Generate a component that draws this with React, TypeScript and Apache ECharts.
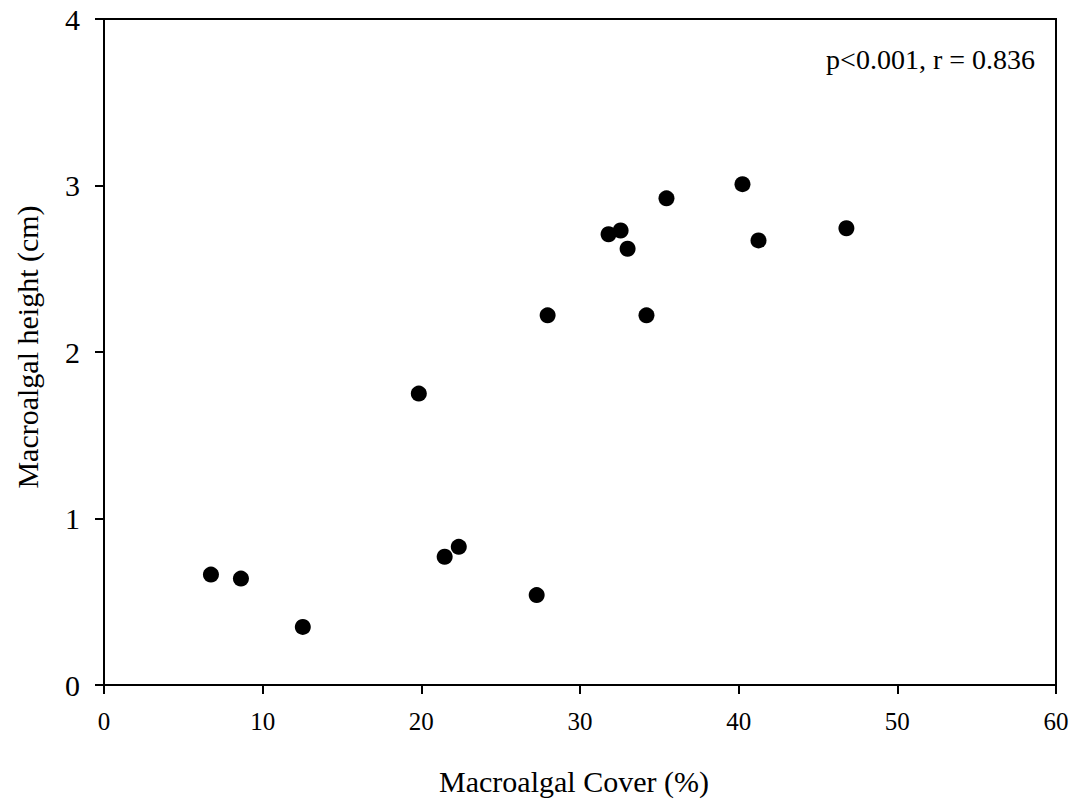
import React, { useEffect, useRef } from "react";
import * as echarts from "echarts";

const coverPct = [6.74, 8.63, 12.53, 19.84, 21.47, 22.36, 27.27, 27.96, 31.8, 32.56, 33.0, 34.19, 35.45, 40.24, 41.25, 46.79];
const heightCm = [0.663, 0.639, 0.349, 1.75, 0.77, 0.83, 0.54, 2.22, 2.707, 2.73, 2.62, 2.22, 2.923, 3.008, 2.67, 2.743];
const xTicks = [0, 10, 20, 30, 40, 50, 60];
const yTicks = [0, 1, 2, 3, 4];
const statText = "p<0.001, r = 0.836";
const xTitle = "Macroalgal Cover (%)";
const yTitle = "Macroalgal height (cm)";

const FONT = "'Liberation Serif', 'Times New Roman', serif";

export default function App() {
  const ref = useRef<HTMLDivElement>(null);
  useEffect(() => {
    if (!ref.current) return;
    const chart = echarts.init(ref.current, null, { renderer: "svg" });
    chart.setOption({
      animation: false,
      backgroundColor: "#ffffff",
      textStyle: { fontFamily: FONT, color: "#000" },
      grid: {
        left: 104,
        right: 22,
        top: 19,
        bottom: 119,
        show: true,
        borderColor: "#000",
        borderWidth: 2,
        backgroundColor: "transparent",
      },
      xAxis: {
        type: "value",
        min: xTicks[0],
        max: xTicks[xTicks.length - 1],
        interval: xTicks[1] - xTicks[0],
        name: xTitle,
        nameLocation: "middle",
        nameGap: 81,
        nameTextStyle: { fontFamily: FONT, fontSize: 30, color: "#000", padding: [0, 12, 0, 0] },
        axisLine: { show: true, onZero: false, lineStyle: { color: "#000", width: 2 } },
        axisTick: { show: true, inside: false, length: 9, lineStyle: { color: "#000", width: 2 } },
        axisLabel: { fontFamily: FONT, fontSize: 25, color: "#000", margin: 24 },
        splitLine: { show: false },
      },
      yAxis: {
        type: "value",
        min: yTicks[0],
        max: yTicks[yTicks.length - 1],
        interval: yTicks[1] - yTicks[0],
        name: yTitle,
        nameLocation: "middle",
        nameGap: 62,
        nameTextStyle: { fontFamily: FONT, fontSize: 30, color: "#000", padding: [0, 0, 0, 10] },
        axisLine: { show: true, onZero: false, lineStyle: { color: "#000", width: 2 } },
        axisTick: { show: true, inside: false, length: 9, lineStyle: { color: "#000", width: 2 } },
        axisLabel: { fontFamily: FONT, fontSize: 30, color: "#000", margin: 24 },
        splitLine: { show: false },
      },
      graphic: [
        {
          type: "text",
          x: 1035,
          y: 59,
          style: {
            text: statText,
            fontFamily: FONT,
            fontSize: 28,
            fill: "#000",
            align: "right",
            verticalAlign: "middle",
          },
        },
      ],
      series: [
        {
          type: "scatter",
          data: coverPct.map((x, i) => [x, heightCm[i]]),
          symbol: "circle",
          symbolSize: 16,
          itemStyle: { color: "#000", opacity: 1 },
        },
      ],
    });
    return () => chart.dispose();
  }, []);
  return (
    <div
      ref={ref}
      style={{ position: "fixed", left: 0, top: 0, width: 1078, height: 804 }}
    />
  );
}
